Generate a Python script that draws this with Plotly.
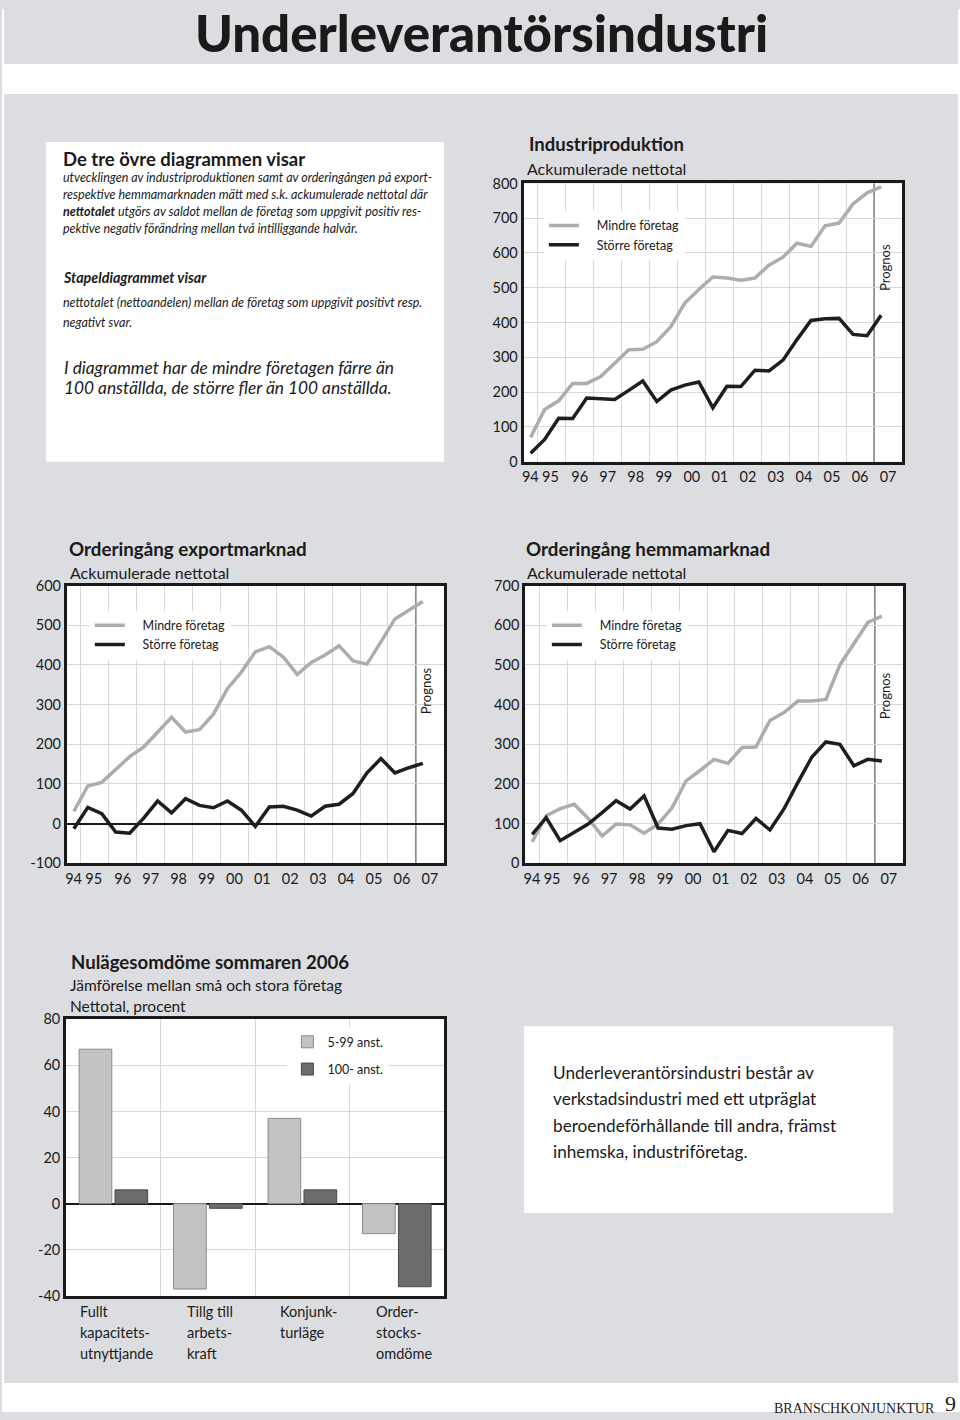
import plotly.graph_objects as go

# ---------------- data ----------------
periods = ["94:2", "95:1", "95:2", "96:1", "96:2", "97:1", "97:2", "98:1", "98:2",
           "99:1", "99:2", "00:1", "00:2", "01:1", "01:2", "02:1", "02:2", "03:1",
           "03:2", "04:1", "04:2", "05:1", "05:2", "06:1", "06:2", "07:1"]
year_labels = ["94", "95", "96", "97", "98", "99", "00", "01", "02", "03", "04", "05", "06", "07"]

ind_mindre = [70, 150, 175, 225, 225, 245, 283, 322, 323, 345, 388, 456, 495, 531, 528,
              522, 528, 565, 588, 628, 619, 678, 686, 741, 773, 790]
ind_storre = [24, 64, 125, 124, 183, 181, 179, 205, 232, 173, 206, 220, 229, 155, 217,
              216, 263, 261, 292, 351, 406, 411, 412, 366, 362, 421]

exp_mindre = [31, 95, 104, 137, 169, 193, 230, 268, 231, 237, 276, 340, 382, 433, 446,
              420, 376, 406, 425, 448, 410, 402, 458, 516, 538, 560]
exp_storre = [-13, 41, 25, -21, -24, 14, 57, 27, 63, 46, 40, 57, 34, -7, 42,
              44, 34, 19, 44, 49, 76, 128, 164, 128, 141, 152]

hem_mindre = [54, 120, 138, 149, 113, 69, 99, 97, 76, 99, 140, 208, 234, 262, 252,
              292, 293, 360, 380, 409, 409, 413, 500, 554, 607, 623]
hem_storre = [73, 115, 57, 78, 99, 128, 158, 137, 170, 89, 86, 95, 100, 29, 83,
              75, 113, 84, 137, 204, 268, 306, 300, 246, 262, 258]

prognos_year = 2007

bar_categories = [["Fullt", "kapacitets-", "utnyttjande"],
                  ["Tillg till", "arbets-", "kraft"],
                  ["Konjunk-", "turläge"],
                  ["Order-", "stocks-", "omdöme"]]
bar_small = [67, -37, 37, -13]   # 5-99 anst.
bar_large = [6, -2, 6, -36]      # 100- anst.

# ---------------- helpers ----------------
W, H = 960, 1420
# the photographed page shows the figure slightly offset / compressed vertically;
# layout positions below are given in the target picture's pixels and mapped back.
V_OFF, V_SCALE = 8, 0.9889
FONT = "Lato"
INK = "#1a1a1a"
GRID = "#d8d8d8"
BG = "#dcdde0"
C_LIGHT = "#adadad"
C_DARK = "#1e1e1e"


def X(px):
    return px / W


def Y(py):
    return 1 - (py / V_SCALE - V_OFF) / H


def period_x(p):
    yy, h = p.split(":")
    yy = int(yy)
    yy += 1900 if yy > 50 else 2000
    return yy + (0.25 if h == "1" else 0.75)


def label_x(lbl):
    yy = int(lbl)
    yy += 1900 if yy > 50 else 2000
    return yy + 0.5


xs = [period_x(p) for p in periods]
tick_pos = [label_x(l) for l in year_labels]
tick_pos[0] += 0.24   # crowded first labels, as in the original
tick_pos[1] -= 0.04

fig = go.Figure()

charts = [
    dict(xa="x", ya="y", leg="legend", mindre=ind_mindre, storre=ind_storre,
         xd=[X(522.7), X(902)], yd=[Y(461), Y(182.5)], yr=[0, 800], yt=list(range(0, 801, 100)),
         zero=False, prog_y=267),
    dict(xa="x2", ya="y2", leg="legend2", mindre=exp_mindre, storre=exp_storre,
         xd=[X(65), X(442.7)], yd=[Y(863), Y(585)], yr=[-100, 600], yt=list(range(-100, 601, 100)),
         zero=True, prog_y=690),
    dict(xa="x3", ya="y3", leg="legend3", mindre=hem_mindre, storre=hem_storre,
         xd=[X(524.3), X(902.7)], yd=[Y(863), Y(585)], yr=[0, 700], yt=list(range(0, 701, 100)),
         zero=False, prog_y=695),
]

layout_axes = {}
annotations = []
shapes = []

for i, c in enumerate(charts):
    fig.add_trace(go.Scatter(x=xs, y=c["mindre"], mode="lines", name="    Mindre företag",
                             line=dict(color=C_LIGHT, width=3.5), xaxis=c["xa"], yaxis=c["ya"],
                             legend=c["leg"], hoverinfo="skip"))
    fig.add_trace(go.Scatter(x=xs, y=c["storre"], mode="lines", name="    Större företag",
                             line=dict(color=C_DARK, width=3.5), xaxis=c["xa"], yaxis=c["ya"],
                             legend=c["leg"], hoverinfo="skip"))
    xkey = "xaxis" if c["xa"] == "x" else "xaxis" + c["xa"][1:]
    ykey = "yaxis" if c["ya"] == "y" else "yaxis" + c["ya"][1:]
    layout_axes[xkey] = dict(
        domain=c["xd"], anchor=c["ya"], range=[1994.5, 2008.0],
        tickmode="array", tickvals=tick_pos, ticktext=year_labels, tickangle=0,
        showgrid=False, zeroline=False, ticks="",
        minor=dict(tickvals=list(range(1995, prognos_year)), showgrid=True,
                   gridcolor=GRID, gridwidth=1, ticks=""),
        showline=True, mirror=True, linecolor=INK, linewidth=3,
        tickfont=dict(family=FONT, size=14.5, color=INK), fixedrange=True)
    layout_axes[ykey] = dict(
        domain=c["yd"], anchor=c["xa"], range=c["yr"], tickmode="array", tickvals=c["yt"],
        ticktext=[str(v) for v in c["yt"]],
        showgrid=True, gridcolor=GRID, gridwidth=1, ticks="",
        zeroline=c["zero"], zerolinecolor=INK, zerolinewidth=1.5,
        showline=True, mirror=True, linecolor=INK, linewidth=3,
        tickfont=dict(family=FONT, size=14.5, color=INK), fixedrange=True)
    shapes.append(dict(type="line", xref=c["xa"], yref=c["ya"] + " domain",
                       x0=prognos_year, x1=prognos_year, y0=0, y1=1,
                       line=dict(color="#7d7d7d", width=1.5), layer="below"))
    annotations.append(dict(text="Prognos", xref=c["xa"], x=prognos_year, xshift=11,
                            yref="paper", y=Y(c["prog_y"]), textangle=-90, showarrow=False,
                            font=dict(family=FONT, size=13, color=INK),
                            xanchor="center", yanchor="middle"))

# bar chart
bx = list(range(len(bar_categories)))
fig.add_trace(go.Bar(x=bx, y=bar_small, name="5-99 anst.", xaxis="x4", yaxis="y4",
                     marker=dict(color="#c3c3c3", line=dict(color="#8a8a8a", width=1)),
                     legend="legend4", legendgroup="small", hoverinfo="skip"))
fig.add_trace(go.Bar(x=bx, y=bar_large, name="100- anst.", xaxis="x4", yaxis="y4",
                     marker=dict(color="#6c6c6e", line=dict(color="#4a4a4a", width=1)),
                     legend="legend4", legendgroup="large", hoverinfo="skip"))
bar_ticks = list(range(-40, 81, 20))
layout_axes["xaxis4"] = dict(
    domain=[X(64.3), X(443)], anchor="y4", range=[-0.5, len(bar_categories) - 0.5],
    showticklabels=False, showgrid=False, zeroline=False, ticks="",
    minor=dict(tickvals=[k + 0.5 for k in bx[:-1]], showgrid=True, gridcolor=GRID,
               gridwidth=1, ticks=""),
    showline=True, mirror=True, linecolor=INK, linewidth=3, fixedrange=True)
layout_axes["yaxis4"] = dict(
    domain=[Y(1296), Y(1019)], anchor="x4", range=[-40, 80], tickmode="array",
    tickvals=bar_ticks, ticktext=[str(v) for v in bar_ticks],
    showgrid=True, gridcolor=GRID, gridwidth=1, ticks="",
    zeroline=True, zerolinecolor=INK, zerolinewidth=2,
    showline=True, mirror=True, linecolor=INK, linewidth=3,
    tickfont=dict(family=FONT, size=14.5, color=INK), fixedrange=True)

cat_shift = [-35, -23, -24, -23]
for k, lines in enumerate(bar_categories):
    for j, line in enumerate(lines):
        annotations.append(dict(text=line, xref="x4", x=bx[k], xshift=cat_shift[k],
                                yref="paper", y=Y(1312 + 21 * j), showarrow=False,
                                xanchor="left", yanchor="middle",
                                font=dict(family=FONT, size=14.5, color=INK)))


def txt(x, y, text, size, anchor="left", family=FONT, color=INK, weight=None):
    f = dict(family=family, size=size, color=color)
    if weight:
        f["weight"] = weight
    annotations.append(dict(text=text, xref="paper", yref="paper", x=X(x), y=Y(y),
                            showarrow=False, xanchor=anchor, yanchor="middle", font=f))


# page background pieces (the paper itself is grey)
shapes = [
    dict(type="rect", xref="paper", yref="paper", x0=0, x1=1, y0=Y(93), y1=Y(63),
         fillcolor="white", line=dict(width=0), layer="below"),
    dict(type="rect", xref="paper", yref="paper", x0=0, x1=1, y0=0, y1=Y(1383),
         fillcolor="white", line=dict(width=0), layer="below"),
    dict(type="rect", xref="paper", yref="paper", x0=0, x1=X(2), y0=0, y1=1,
         fillcolor="white", line=dict(width=0), layer="below"),
    dict(type="rect", xref="paper", yref="paper", x0=X(958), x1=1, y0=0, y1=1,
         fillcolor="white", line=dict(width=0), layer="below"),
    dict(type="rect", xref="paper", yref="paper", x0=X(44), x1=X(443), y0=Y(461), y1=Y(141),
         fillcolor="white", line=dict(width=0), layer="below"),
    dict(type="rect", xref="paper", yref="paper", x0=X(523), x1=X(893), y0=Y(1213), y1=Y(1026),
         fillcolor="white", line=dict(width=0), layer="below"),
] + shapes

# texts
txt(481, 31, "Underleverantörsindustri", 51, anchor="center", weight=900)

txt(59, 158, "<b>De tre övre diagrammen visar</b>", 18.5)
txt(59, 177, "<i>utvecklingen av industriproduktionen samt av orderingången på export-</i>", 12.5)
txt(59, 194, "<i>respektive hemmamarknaden mätt med s.k. ackumulerade nettotal där</i>", 12.5)
txt(59, 211, "<i><b>nettotalet</b> utgörs av saldot mellan de företag som uppgivit positiv res-</i>", 12.5)
txt(59, 228, "<i>pektive negativ förändring mellan två intilliggande halvår.</i>", 12.5)
txt(59, 277, "<b><i>Stapeldiagrammet visar</i></b>", 14.3)
txt(59, 302, "<i>nettotalet (nettoandelen) mellan de företag som uppgivit positivt resp.</i>", 12.5)
txt(59, 322, "<i>negativt svar.</i>", 12.5)
txt(60, 367, "<i>I diagrammet har de mindre företagen färre än</i>", 17.3)
txt(60, 387, "<i>100 anställda, de större fler än 100 anställda.</i>", 17.3)

txt(526, 143, "<b>Industriproduktion</b>", 18.5)
txt(524, 168, "Ackumulerade nettotal", 16)
txt(65, 548, "<b>Orderingång exportmarknad</b>", 18.8)
txt(66, 572, "Ackumulerade nettotal", 16)
txt(523, 548, "<b>Orderingång hemmamarknad</b>", 18.8)
txt(524, 572, "Ackumulerade nettotal", 16)
txt(67, 962, "<b>Nulägesomdöme sommaren 2006</b>", 18.6)
txt(66, 985, "Jämförelse mellan små och stora företag", 15.5)
txt(66, 1006, "Nettotal, procent", 15.5)

for j, line in enumerate(["Underleverantörsindustri består av",
                          "verkstadsindustri med ett utpräglat",
                          "beroendeförhållande till andra, främst",
                          "inhemska, industriföretag."]):
    txt(550, 1072 + 26.5 * j, line, 17.2)

txt(937, 1409, "BRANSCHKONJUNKTUR", 14, anchor="right", family="Liberation Serif")
txt(943, 1404, "9", 22, family="Liberation Serif")

leg_common = dict(bgcolor="white", borderwidth=0, font=dict(family=FONT, size=12.5, color=INK),
                  itemwidth=30, tracegroupgap=0, xanchor="left", yanchor="top",
                  itemclick=False, itemdoubleclick=False)

fig.update_layout(
    width=W, height=H, margin=dict(l=0, r=0, t=0, b=0, pad=0),
    paper_bgcolor=BG, plot_bgcolor="white",
    font=dict(family=FONT, color=INK),
    barmode="group", bargap=0.24, bargroupgap=0.09,
    showlegend=True,
    legend=dict(x=X(543), y=Y(210), **leg_common),
    legend2=dict(x=X(88), y=Y(610), **leg_common),
    legend3=dict(x=X(546), y=Y(610), **leg_common),
    legend4=dict(x=X(286), y=Y(1027), **{**leg_common, "tracegroupgap": 8}),
    shapes=shapes, annotations=annotations,
    **layout_axes,
)

fig.write_html("out.html")
